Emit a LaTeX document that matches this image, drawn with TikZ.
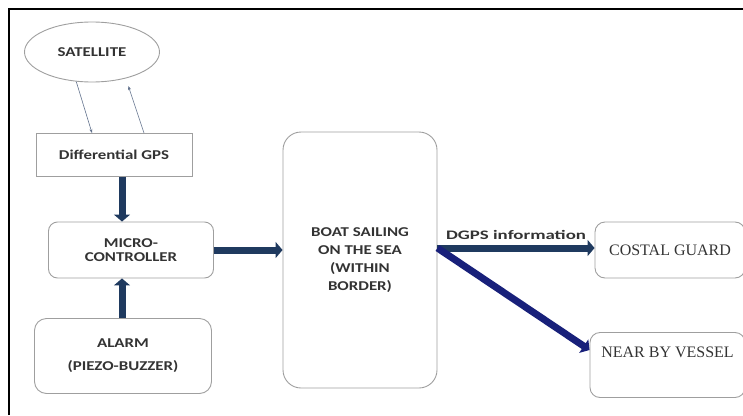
\documentclass[tikz,border=0pt]{standalone}
\usepackage{fontspec}
\setmainfont{Liberation Serif}
\newfontfamily\blockfont[FakeStretch=1.25]{Carlito}
\newfontfamily\labelfont[FakeStretch=1.45]{Carlito}
\usetikzlibrary{arrows.meta,shapes.geometric}
\definecolor{linkblue}{HTML}{61718C}
\definecolor{arrowblue}{HTML}{1F3A5F}
\definecolor{deepblue}{HTML}{18207A}
\definecolor{textgray}{HTML}{333333}

\begin{document}
\begin{tikzpicture}[x=1pt, y=-1pt,
    unit/.style={draw=gray!75, line width=0.9pt, align=center, text=textgray,
        font=\blockfont\bfseries\fontsize{13.5}{14}\selectfont, inner sep=2pt},
    sat/.style={unit, ellipse, minimum width=135pt, minimum height=60pt},
    plainbox/.style={unit, rectangle, minimum width=156pt, minimum height=43pt},
    roundbox/.style={unit, rectangle, rounded corners=9pt},
    outbox/.style={unit, rectangle, rounded corners=10pt, font=\fontsize{16}{18}\selectfont},
    thinlink/.style={draw=linkblue, line width=0.6pt, -{Stealth[length=4pt,width=3pt]}},
    biglink/.style={draw=arrowblue, line width=7pt, -{Triangle[length=7pt,width=16pt]}},
]
\useasboundingbox (0,0) rectangle (743,415);

% Frame
\draw[line width=2pt] (9,415) -- (9,9) -- (743,9);

% Left column
\node[sat] (sat) at (92,52) {SATELLITE};
\node[plainbox] (dgps) at (114,155) {Differential GPS};
\node[roundbox, minimum width=165pt, minimum height=56pt] (mcu) at (131,250) {MICRO-\\CONTROLLER};
\node[roundbox, rounded corners=12pt, minimum width=177pt, minimum height=75pt,
    font=\blockfont\bfseries\fontsize{13.5}{23}\selectfont] (alarm) at (123,356) {ALARM\\(PIEZO-BUZZER)};

% Boat
\node[roundbox, rounded corners=18pt, minimum width=154pt, minimum height=256pt,
    font=\blockfont\bfseries\fontsize{13.5}{18}\selectfont] (boat) at (360,260) {BOAT SAILING\\ON THE SEA\\(WITHIN\\BORDER)};

% Receivers
\node[outbox, minimum width=150pt, minimum height=56pt] (guard) at (670,250) {COSTAL GUARD};
\node[outbox, minimum width=155pt, text height=11pt, text depth=26pt, inner ysep=14pt] (vessel) at (667.5,365) {NEAR BY VESSEL};

% Satellite links
\draw[thinlink] (sat.242) -- ([xshift=-22pt]dgps.north);
\draw[thinlink, shorten >=8pt] ([xshift=30pt]dgps.north) -- (sat.322);

% Thick arrows
\draw[biglink] ([xshift=8pt]dgps.south) -- ([xshift=-9pt]mcu.north);
\draw[biglink] ([xshift=-1pt]alarm.north) -- ([xshift=-9pt]mcu.south);
\draw[biglink] (mcu.east) -- (mcu.east -| boat.west);
\draw[biglink] ([yshift=12pt]boat.east) -- ([yshift=12pt]boat.east -| guard.west)
    node[midway, above=2pt, text=textgray, font=\labelfont\bfseries\fontsize{13}{14}\selectfont] {DGPS information};
\draw[biglink, draw=deepblue] ([yshift=12pt]boat.east) -- ([yshift=15pt]vessel.west);

\end{tikzpicture}
\end{document}
